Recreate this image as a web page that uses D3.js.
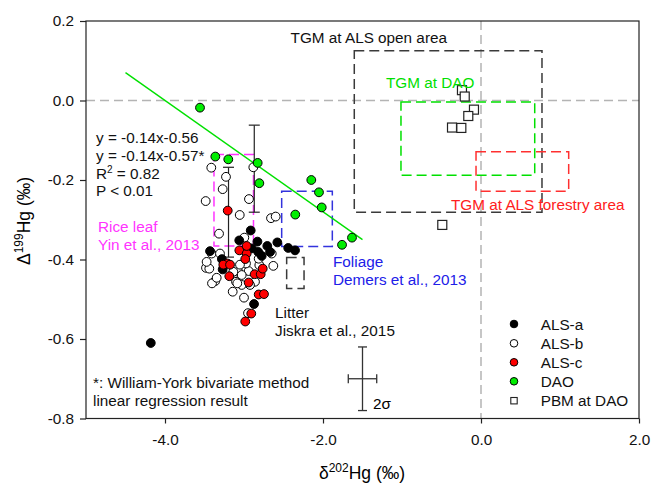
<!DOCTYPE html>
<html><head><meta charset="utf-8">
<script src="https://cdn.jsdelivr.net/npm/d3@7"></script>
<style>
html,body{margin:0;padding:0;background:#fff;}
text{font-family:"Liberation Sans",Arial,sans-serif;}
</style></head>
<body>
<svg id="chart" width="652" height="484"></svg>
<script>
// ---------------- data ----------------
const xTicks = [-4, -2, 0, 2];
const yTicks = [-0.8, -0.6, -0.4, -0.2, 0, 0.2];

const alsA = [[-4.18,-0.61],[-2.915,-0.327],[-3.06,-0.352],[-2.83,-0.355],[-2.705,-0.366],[-2.578,-0.357],
  [-2.44,-0.371],[-2.354,-0.377],[-3.43,-0.379],[-3.28,-0.399],[-2.776,-0.391],[-2.90,-0.372],
  [-2.82,-0.381],[-2.67,-0.381],[-3.27,-0.425],[-2.873,-0.512]];

const alsB = [[-3.414,-0.169],[-2.882,-0.168],[-3.228,-0.192],[-3.27,-0.223],[-3.485,-0.253],[-2.937,-0.248],
  [-3.054,-0.288],[-2.658,-0.296],[-2.599,-0.292],[-3.316,-0.335],[-2.996,-0.345],[-2.649,-0.385],
  [-2.629,-0.416],[-3.409,-0.385],[-3.304,-0.385],[-3.481,-0.421],[-3.439,-0.423],[-3.363,-0.454],
  [-3.405,-0.46],[-3.143,-0.481],[-3.0,-0.496],[-3.101,-0.456],[-2.941,-0.429],[-2.975,-0.41],
  [-2.806,-0.414],[-2.949,-0.535],[-3.072,-0.431],[-3.346,-0.446],[-3.029,-0.464],[-2.861,-0.456],
  [-2.924,-0.464],[-3.051,-0.413],[-3.029,-0.439],[-3.085,-0.46],[-2.814,-0.398],[-3.473,-0.406],
  [-3.135,-0.431]];

const alsC = [[-3.206,-0.277],[-3.059,-0.377],[-2.966,-0.385],[-2.984,-0.399],[-3.211,-0.41],[-3.262,-0.413],
  [-3.177,-0.413],[-3.186,-0.442],[-2.941,-0.458],[-2.865,-0.437],[-2.789,-0.437],[-2.763,-0.423],
  [-2.814,-0.488],[-2.747,-0.487],[-2.908,-0.536],[-2.984,-0.556],[-2.966,-0.366]];

const dao = [[-3.557,-0.018],[-3.363,-0.141],[-3.199,-0.148],[-2.827,-0.157],[-2.806,-0.208],[-2.148,-0.2],
  [-2.051,-0.231],[-2.016,-0.269],[-2.351,-0.287],[-1.633,-0.345],[-1.759,-0.363]];

const pbm = [[-0.241,0.026],[-0.206,0.010],[-0.089,-0.023],[-0.161,-0.039],[-0.367,-0.068],[-0.249,-0.069],[-0.49,-0.313]];

// regression: y = slope*x + intercept over xRange
const regSlope = -0.14, regIntercept = -0.56, regRange = [-4.5, -1.5];

// literature / TGM ranges: [x0, x1, y0, y1]
const boxTgmOpen = [-1.604, 0.772, 0.125, -0.281];
const boxTgmDao = [-1.013, 0.680, -0.004, -0.188];
const boxTgmForest = [-0.063, 1.11, -0.129, -0.228];
const boxRice = [-3.38, -2.88, -0.136, -0.366];
const boxFoliage = [-2.523, -1.882, -0.228, -0.367];
const boxLitter = [-2.46, -2.24, -0.395, -0.473];

// error bars: [x, yLow, yHigh]
const errBars = [[-2.87, -0.281, -0.062], [-3.196, -0.394, -0.168]];
// 2 sigma cross: [x, y, xErr, yErr]
const sigmaCross = [-1.5, -0.7, 0.18, 0.08];

const legendLabels = ["ALS-a", "ALS-b", "ALS-c", "DAO", "PBM at DAO"];

// ---------------- drawing ----------------
const svg = d3.select("#chart");
const x = d3.scaleLinear().domain([-5, 2]).range([86, 639]);
const y = d3.scaleLinear().domain([-0.8, 0.2]).range([418.5, 21]);
const FS = 15.3;
const fmt = d => (Math.abs(d) < 1e-9 ? 0 : d).toFixed(1);

// zero reference lines
svg.append("line").attr("x1", x(-5)).attr("x2", x(2)).attr("y1", y(0)).attr("y2", y(0))
  .attr("stroke", "#b4b4b4").attr("stroke-width", 1.5).attr("stroke-dasharray", "9,5");
svg.append("line").attr("x1", x(0)).attr("x2", x(0)).attr("y1", y(0.2)).attr("y2", y(-0.8))
  .attr("stroke", "#b4b4b4").attr("stroke-width", 1.5).attr("stroke-dasharray", "9,5");

// dashed boxes
function box(b, color) {
  svg.append("rect")
    .attr("x", x(b[0])).attr("y", y(b[2]))
    .attr("width", x(b[1]) - x(b[0])).attr("height", y(b[3]) - y(b[2]))
    .attr("fill", "none").attr("stroke", color).attr("stroke-width", 1.5)
    .attr("stroke-dasharray", "10,5");
}
box(boxTgmOpen, "#3a3a3a");
box(boxTgmDao, "#00e000");
box(boxTgmForest, "#ff3030");
box(boxRice, "#ff33ff");
box(boxFoliage, "#3333dd");
box(boxLitter, "#3a3a3a");

// regression line
svg.append("line")
  .attr("x1", x(regRange[0])).attr("y1", y(regSlope * regRange[0] + regIntercept))
  .attr("x2", x(regRange[1])).attr("y2", y(regSlope * regRange[1] + regIntercept))
  .attr("stroke", "#00e000").attr("stroke-width", 1.4);

// error bars
errBars.forEach(e => {
  const g = svg.append("g").attr("stroke", "#222").attr("stroke-width", 1.2);
  g.append("line").attr("x1", x(e[0])).attr("x2", x(e[0])).attr("y1", y(e[1])).attr("y2", y(e[2]));
  [e[1], e[2]].forEach(v => g.append("line").attr("x1", x(e[0]) - 5.5).attr("x2", x(e[0]) + 5.5)
    .attr("y1", y(v)).attr("y2", y(v)));
});

// 2 sigma cross
{
  const [cx, cy, ex, ey] = sigmaCross;
  const g = svg.append("g").attr("stroke", "#333").attr("stroke-width", 1.3);
  g.append("line").attr("x1", x(cx)).attr("x2", x(cx)).attr("y1", y(cy - ey)).attr("y2", y(cy + ey));
  g.append("line").attr("x1", x(cx - ex)).attr("x2", x(cx + ex)).attr("y1", y(cy)).attr("y2", y(cy));
  [cy - ey, cy + ey].forEach(v => g.append("line").attr("x1", x(cx) - 4.5).attr("x2", x(cx) + 4.5).attr("y1", y(v)).attr("y2", y(v)));
  [cx - ex, cx + ex].forEach(v => g.append("line").attr("x1", x(v)).attr("x2", x(v)).attr("y1", y(cy) - 4.5).attr("y2", y(cy) + 4.5));
  svg.append("text").attr("x", x(cx) + 10.5).attr("y", y(cy - ey) - 2).attr("font-size", FS).text("2σ");
}

// points
function circles(data, fill) {
  svg.append("g").selectAll("circle").data(data).join("circle")
    .attr("cx", d => x(d[0])).attr("cy", d => y(d[1])).attr("r", 4.4)
    .attr("fill", fill).attr("stroke", "#000").attr("stroke-width", 1);
}
circles(alsB, "#fff");
circles(alsA, "#000");
circles(alsC, "#ff0000");
circles(dao, "#00ee00");
svg.append("g").selectAll("rect").data(pbm).join("rect")
  .attr("x", d => x(d[0]) - 4.5).attr("y", d => y(d[1]) - 4.5).attr("width", 9).attr("height", 9)
  .attr("fill", "#fff").attr("stroke", "#222").attr("stroke-width", 1.2);

// frame
svg.append("rect").attr("x", x(-5)).attr("y", y(0.2)).attr("width", x(2) - x(-5)).attr("height", y(-0.8) - y(0.2))
  .attr("fill", "none").attr("stroke", "#222").attr("stroke-width", 1.2);

// axes
const xAxis = svg.append("g").attr("transform", `translate(0,${y(-0.8)})`)
  .call(d3.axisBottom(x).tickValues(xTicks).tickFormat(fmt).tickSize(5).tickSizeOuter(0).tickPadding(11));
const yAxis = svg.append("g").attr("transform", `translate(${x(-5)},0)`)
  .call(d3.axisLeft(y).tickValues(yTicks).tickFormat(fmt).tickSize(6).tickSizeOuter(0).tickPadding(6));
[xAxis, yAxis].forEach(a => {
  a.select(".domain").remove();
  a.selectAll("line").attr("stroke", "#222").attr("stroke-width", 1.2);
  a.selectAll("text").attr("font-size", FS).attr("font-family", '"Liberation Sans",Arial,sans-serif').attr("fill", "#111");
});

// axis titles
const xt = svg.append("text").attr("x", 362).attr("y", 479).attr("text-anchor", "middle").attr("font-size", 17.5);
xt.append("tspan").text("δ");
xt.append("tspan").attr("font-size", 12).attr("dy", -7.5).text("202");
xt.append("tspan").attr("dy", 7.5).text("Hg (‰)");
const yt = svg.append("text").attr("transform", "translate(30,221) rotate(-90)").attr("text-anchor", "middle").attr("font-size", 17.5);
yt.append("tspan").text("Δ");
yt.append("tspan").attr("font-size", 12).attr("dy", -7.5).text("199");
yt.append("tspan").attr("dy", 7.5).text("Hg (‰)");

// annotations
function label(tx, ty, str, color, anchor) {
  return svg.append("text").attr("x", tx).attr("y", ty).attr("font-size", FS)
    .attr("fill", color || "#111").attr("text-anchor", anchor || "start").text(str);
}
label(96, 143, "y = -0.14x-0.56");
label(96, 160.5, "y = -0.14x-0.57*");
{
  const r = svg.append("text").attr("x", 96).attr("y", 178.5).attr("font-size", FS).attr("fill", "#111");
  r.append("tspan").text("R");
  r.append("tspan").attr("font-size", 10).attr("dy", -6).text("2");
  r.append("tspan").attr("dy", 6).text(" = 0.82");
}
label(96, 196, "P < 0.01");
label(98, 232, "Rice leaf", "#ff33ff");
label(98, 249.5, "Yin et al., 2013", "#ff33ff");
label(333, 267, "Foliage", "#2020e8");
label(333, 285, "Demers et al., 2013", "#2020e8");
label(275, 318, "Litter");
label(275, 335.5, "Jiskra et al., 2015");
label(447, 43, "TGM at ALS open area", "#111", "end");
label(386, 88, "TGM at DAO", "#00e000");
label(451, 210, "TGM at ALS forestry area", "#ff2020");
label(93, 388, "*: William-York bivariate method");
label(93, 405.5, "linear regression result");

// legend
const legY = [324, 343.3, 362.3, 381.3, 400.7];
const legFill = ["#000", "#fff", "#ff0000", "#00ee00"];
legendLabels.forEach((t, i) => {
  if (i < 4) {
    svg.append("circle").attr("cx", 514).attr("cy", legY[i]).attr("r", 3.8)
      .attr("fill", legFill[i]).attr("stroke", "#000").attr("stroke-width", 1);
  } else {
    svg.append("rect").attr("x", 510.8).attr("y", legY[i] - 3.2).attr("width", 6.4).attr("height", 6.4)
      .attr("fill", "#fff").attr("stroke", "#222").attr("stroke-width", 1.1);
  }
  label(540.7, legY[i] + 5.5, t);
});
</script>
</body></html>
